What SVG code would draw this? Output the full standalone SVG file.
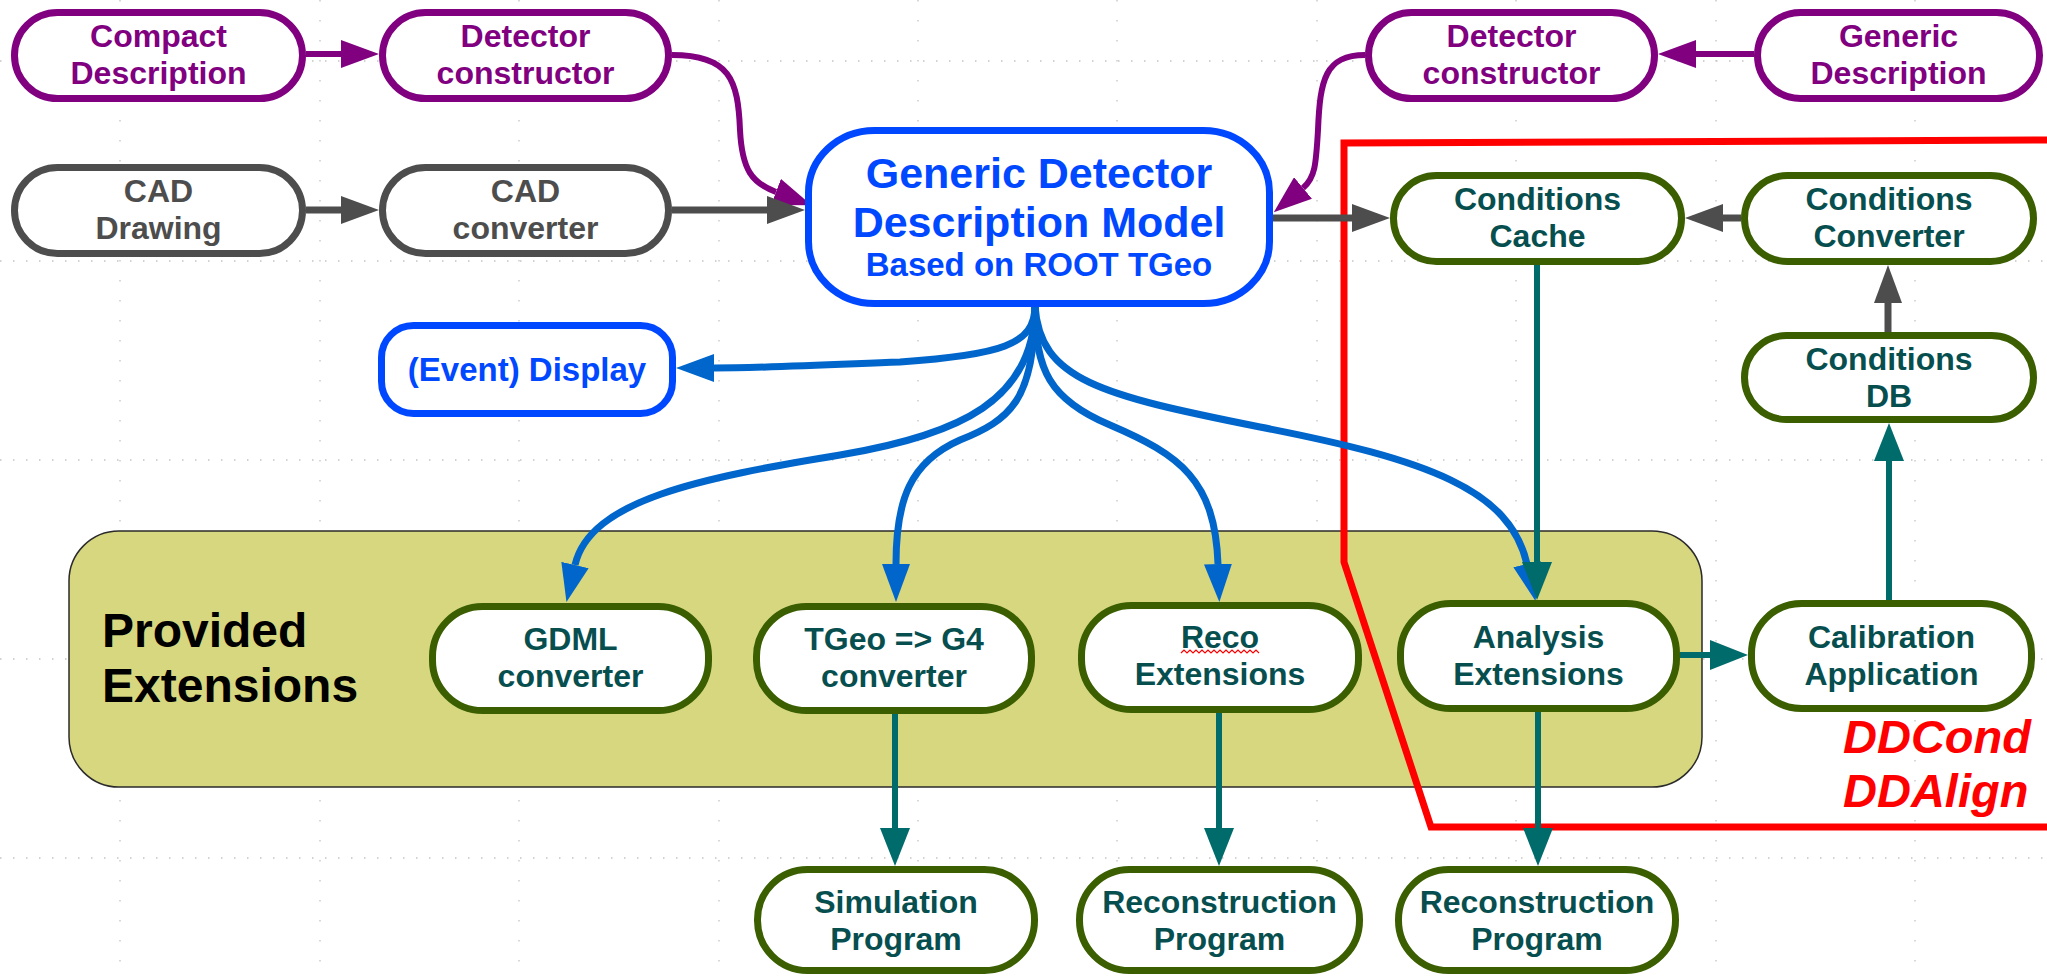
<svg xmlns="http://www.w3.org/2000/svg" width="2047" height="976" viewBox="0 0 2047 976">
<style>
.bg{fill:#ffffff}
.gh{stroke:#c4c4c4;stroke-width:1.3;stroke-dasharray:1.5 11.5;fill:none}
.gv{stroke:#c4c4c4;stroke-width:1.3;stroke-dasharray:1.5 18.5;fill:none}
.node{fill:#ffffff;stroke-width:7}
.pur{stroke:#800080}
.gry{stroke:#4d4d4d}
.blu{stroke:#0048ff}
.grn{stroke:#3a5e00}
.t{font-family:"Liberation Sans",Arial,sans-serif;font-weight:bold;font-size:32px;text-anchor:middle}
.tp{fill:#800080}
.tg{fill:#4d4d4d}
.tb{fill:#0048ff}
.tt{fill:#074f4f}
.c{fill:none}
.cp{stroke:#800080;stroke-width:6}
.cg{stroke:#4d4d4d;stroke-width:7}
.cb{stroke:#0066cc;stroke-width:7}
.ct{stroke:#006b6b;stroke-width:6}
</style>
<defs>
<marker id="ap" viewBox="0 0 38 28" refX="0" refY="14" markerWidth="38" markerHeight="28" markerUnits="userSpaceOnUse" orient="auto"><path d="M0,0 L38,14 L0,28 z" fill="#800080"/></marker>
<marker id="ag" viewBox="0 0 38 28" refX="0" refY="14" markerWidth="38" markerHeight="28" markerUnits="userSpaceOnUse" orient="auto"><path d="M0,0 L38,14 L0,28 z" fill="#4d4d4d"/></marker>
<marker id="ab" viewBox="0 0 38 28" refX="0" refY="14" markerWidth="38" markerHeight="28" markerUnits="userSpaceOnUse" orient="auto"><path d="M0,0 L38,14 L0,28 z" fill="#0066cc"/></marker>
<marker id="at" viewBox="0 0 38 30" refX="0" refY="15" markerWidth="38" markerHeight="30" markerUnits="userSpaceOnUse" orient="auto"><path d="M0,0 L38,15 L0,30 z" fill="#006b6b"/></marker>
</defs>
<rect class="bg" x="0" y="0" width="2047" height="976"/>
<g id="grid">
<path class="gh" d="M0,61 H2047 M0,261 H2047 M0,460 H2047 M0,659 H2047 M0,858 H2047"/>
<path class="gv" d="M120,0 V976 M320,0 V976 M519,0 V976 M719,0 V976 M918,0 V976 M1117,0 V976 M1317,0 V976 M1516,0 V976 M1716,0 V976 M1915,0 V976"/>
</g>
<g id="provided-extensions">
<rect x="69" y="531" width="1633" height="256" rx="50" ry="50" fill="#d7d77f" stroke="#2b2b2b" stroke-width="1.5"/>
<text x="102" y="647" font-family="'Liberation Sans',Arial,sans-serif" font-weight="bold" font-size="48" fill="#000000">Provided</text>
<text x="102" y="702" font-family="'Liberation Sans',Arial,sans-serif" font-weight="bold" font-size="48" fill="#000000">Extensions</text>
</g>
<g id="ddcond-region">
<polyline points="2052,140 1344,143 1344,562 1431,827 2052,827" fill="none" stroke="#ff0000" stroke-width="7" stroke-linejoin="miter"/>
<text x="1843" y="753" font-family="'Liberation Sans',Arial,sans-serif" font-weight="bold" font-style="italic" font-size="47" fill="#ff0000">DDCond</text>
<text x="1843" y="807" font-family="'Liberation Sans',Arial,sans-serif" font-weight="bold" font-style="italic" font-size="47" fill="#ff0000">DDAlign</text>
</g>
<g id="connectors">
<path class="c cp" d="M306,54 L341,54" marker-end="url(#ap)"/>
<path class="c cp" d="M1754,54 L1696,54" marker-end="url(#ap)"/>
<path class="c cp" d="M672,55 C730,55 738,80 740,130 C742,170 752,183 776,192" marker-end="url(#ap)"/>
<path class="c cp" d="M1365,55 C1325,55 1320,80 1318,130 C1316,165 1315,178 1303,188" marker-end="url(#ap)"/>
<path class="c cg" d="M306,210 L341,210" marker-end="url(#ag)"/>
<path class="c cg" d="M672,210 L767,210" marker-end="url(#ag)"/>
<path class="c cg" d="M1273,218 L1352,218" marker-end="url(#ag)"/>
<path class="c cg" d="M1741,218 L1723,218" marker-end="url(#ag)"/>
<path class="c cg" d="M1888,332 L1888,303" marker-end="url(#ag)"/>
<path class="c cb" d="M1035,306 C1035,345 1000,355 900,362 C800,366 760,368 714,368" marker-end="url(#ab)"/>
<path class="c cb" d="M1035,306 C1035,400 960,435 840,455 C700,478 590,500 575,565" marker-end="url(#ab)"/>
<path class="c cb" d="M1035,306 C1035,400 1010,420 960,440 C910,462 896,500 896,564" marker-end="url(#ab)"/>
<path class="c cb" d="M1035,306 C1035,370 1050,400 1110,425 C1180,455 1215,480 1218,564" marker-end="url(#ab)"/>
<path class="c cb" d="M1035,306 C1040,380 1100,395 1260,427 C1430,460 1510,490 1527,564" marker-end="url(#ab)"/>
<path class="c ct" d="M1537,265 L1537,562" marker-end="url(#at)"/>
<path class="c ct" d="M1680,655 L1710,655" marker-end="url(#at)"/>
<path class="c ct" d="M1889,600 L1889,461" marker-end="url(#at)"/>
<path class="c ct" d="M895,713 L895,828" marker-end="url(#at)"/>
<path class="c ct" d="M1219,712 L1219,828" marker-end="url(#at)"/>
<path class="c ct" d="M1538,712 L1538,828" marker-end="url(#at)"/>
</g>
<g id="compact-description">
<rect class="node pur" x="14.5" y="12.5" width="288" height="86" rx="43" ry="43"/>
<text class="t tp" x="158.5" y="47">Compact</text>
<text class="t tp" x="158.5" y="84">Description</text>
</g>
<g id="detector-constructor-left">
<rect class="node pur" x="382.5" y="12.5" width="286" height="86" rx="43" ry="43"/>
<text class="t tp" x="525.5" y="47">Detector</text>
<text class="t tp" x="525.5" y="84">constructor</text>
</g>
<g id="cad-drawing">
<rect class="node gry" x="14.5" y="167.5" width="288" height="86" rx="43" ry="43"/>
<text class="t tg" x="158.5" y="202">CAD</text>
<text class="t tg" x="158.5" y="239">Drawing</text>
</g>
<g id="cad-converter">
<rect class="node gry" x="382.5" y="167.5" width="286" height="86" rx="43" ry="43"/>
<text class="t tg" x="525.5" y="202">CAD</text>
<text class="t tg" x="525.5" y="239">converter</text>
</g>
<g id="generic-model">
<rect class="node blu" x="808.5" y="130.5" width="461" height="173" rx="66" ry="62"/>
<text class="t tb" x="1039" y="188" style="font-size:43px">Generic Detector</text>
<text class="t tb" x="1039" y="237" style="font-size:43px">Description Model</text>
<text class="t tb" x="1039" y="276" style="font-size:33px">Based on ROOT TGeo</text>
</g>
<g id="detector-constructor-right">
<rect class="node pur" x="1368.5" y="12.5" width="286" height="86" rx="43" ry="43"/>
<text class="t tp" x="1511.5" y="47">Detector</text>
<text class="t tp" x="1511.5" y="84">constructor</text>
</g>
<g id="generic-description">
<rect class="node pur" x="1757.5" y="12.5" width="282" height="86" rx="43" ry="43"/>
<text class="t tp" x="1898.5" y="47">Generic</text>
<text class="t tp" x="1898.5" y="84">Description</text>
</g>
<g id="conditions-cache">
<rect class="node grn" x="1393.5" y="175.5" width="288" height="86" rx="43" ry="43"/>
<text class="t tt" x="1537.5" y="210">Conditions</text>
<text class="t tt" x="1537.5" y="247">Cache</text>
</g>
<g id="conditions-converter">
<rect class="node grn" x="1744.5" y="175.5" width="289" height="86" rx="43" ry="43"/>
<text class="t tt" x="1889" y="210">Conditions</text>
<text class="t tt" x="1889" y="247">Converter</text>
</g>
<g id="conditions-db">
<rect class="node grn" x="1744.5" y="335.5" width="289" height="84" rx="42" ry="42"/>
<text class="t tt" x="1889" y="370">Conditions</text>
<text class="t tt" x="1889" y="407">DB</text>
</g>
<g id="event-display">
<rect class="node blu" x="381.5" y="325.5" width="291" height="88" rx="32" ry="32"/>
<text class="t tb" x="527" y="381" style="font-size:33px">(Event) Display</text>
</g>
<g id="gdml-converter">
<rect class="node grn" x="432.5" y="606.5" width="276" height="104" rx="50" ry="50"/>
<text class="t tt" x="570.5" y="650">GDML</text>
<text class="t tt" x="570.5" y="687">converter</text>
</g>
<g id="tgeo-g4-converter">
<rect class="node grn" x="756.5" y="606.5" width="275" height="104" rx="50" ry="50"/>
<text class="t tt" x="894" y="650">TGeo =&gt; G4</text>
<text class="t tt" x="894" y="687">converter</text>
</g>
<g id="reco-extensions">
<rect class="node grn" x="1081.5" y="605.5" width="277" height="104" rx="50" ry="50"/>
<text class="t tt" x="1220" y="648">Reco</text>
<path d="M1181,653 l3,-3 l3,3 l3,-3 l3,3 l3,-3 l3,3 l3,-3 l3,3 l3,-3 l3,3 l3,-3 l3,3 l3,-3 l3,3 l3,-3 l3,3 l3,-3 l3,3 l3,-3 l3,3 l3,-3 l3,3 l3,-3 l3,3 l3,-3 l3,3" fill="none" stroke="#ff0000" stroke-width="1.2"/>
<text class="t tt" x="1220" y="685">Extensions</text>
</g>
<g id="analysis-extensions">
<rect class="node grn" x="1400.5" y="603.5" width="276" height="105" rx="50" ry="50"/>
<text class="t tt" x="1538.5" y="648">Analysis</text>
<text class="t tt" x="1538.5" y="685">Extensions</text>
</g>
<g id="calibration-application">
<rect class="node grn" x="1751.5" y="603.5" width="280" height="105" rx="50" ry="50"/>
<text class="t tt" x="1891.5" y="648">Calibration</text>
<text class="t tt" x="1891.5" y="685">Application</text>
</g>
<g id="simulation-program">
<rect class="node grn" x="757.5" y="869.5" width="277" height="101" rx="50" ry="50"/>
<text class="t tt" x="896" y="913">Simulation</text>
<text class="t tt" x="896" y="950">Program</text>
</g>
<g id="reconstruction-program-1">
<rect class="node grn" x="1079.5" y="869.5" width="280" height="101" rx="50" ry="50"/>
<text class="t tt" x="1219.5" y="913">Reconstruction</text>
<text class="t tt" x="1219.5" y="950">Program</text>
</g>
<g id="reconstruction-program-2">
<rect class="node grn" x="1398.5" y="869.5" width="277" height="101" rx="50" ry="50"/>
<text class="t tt" x="1537" y="913">Reconstruction</text>
<text class="t tt" x="1537" y="950">Program</text>
</g>
</svg>
